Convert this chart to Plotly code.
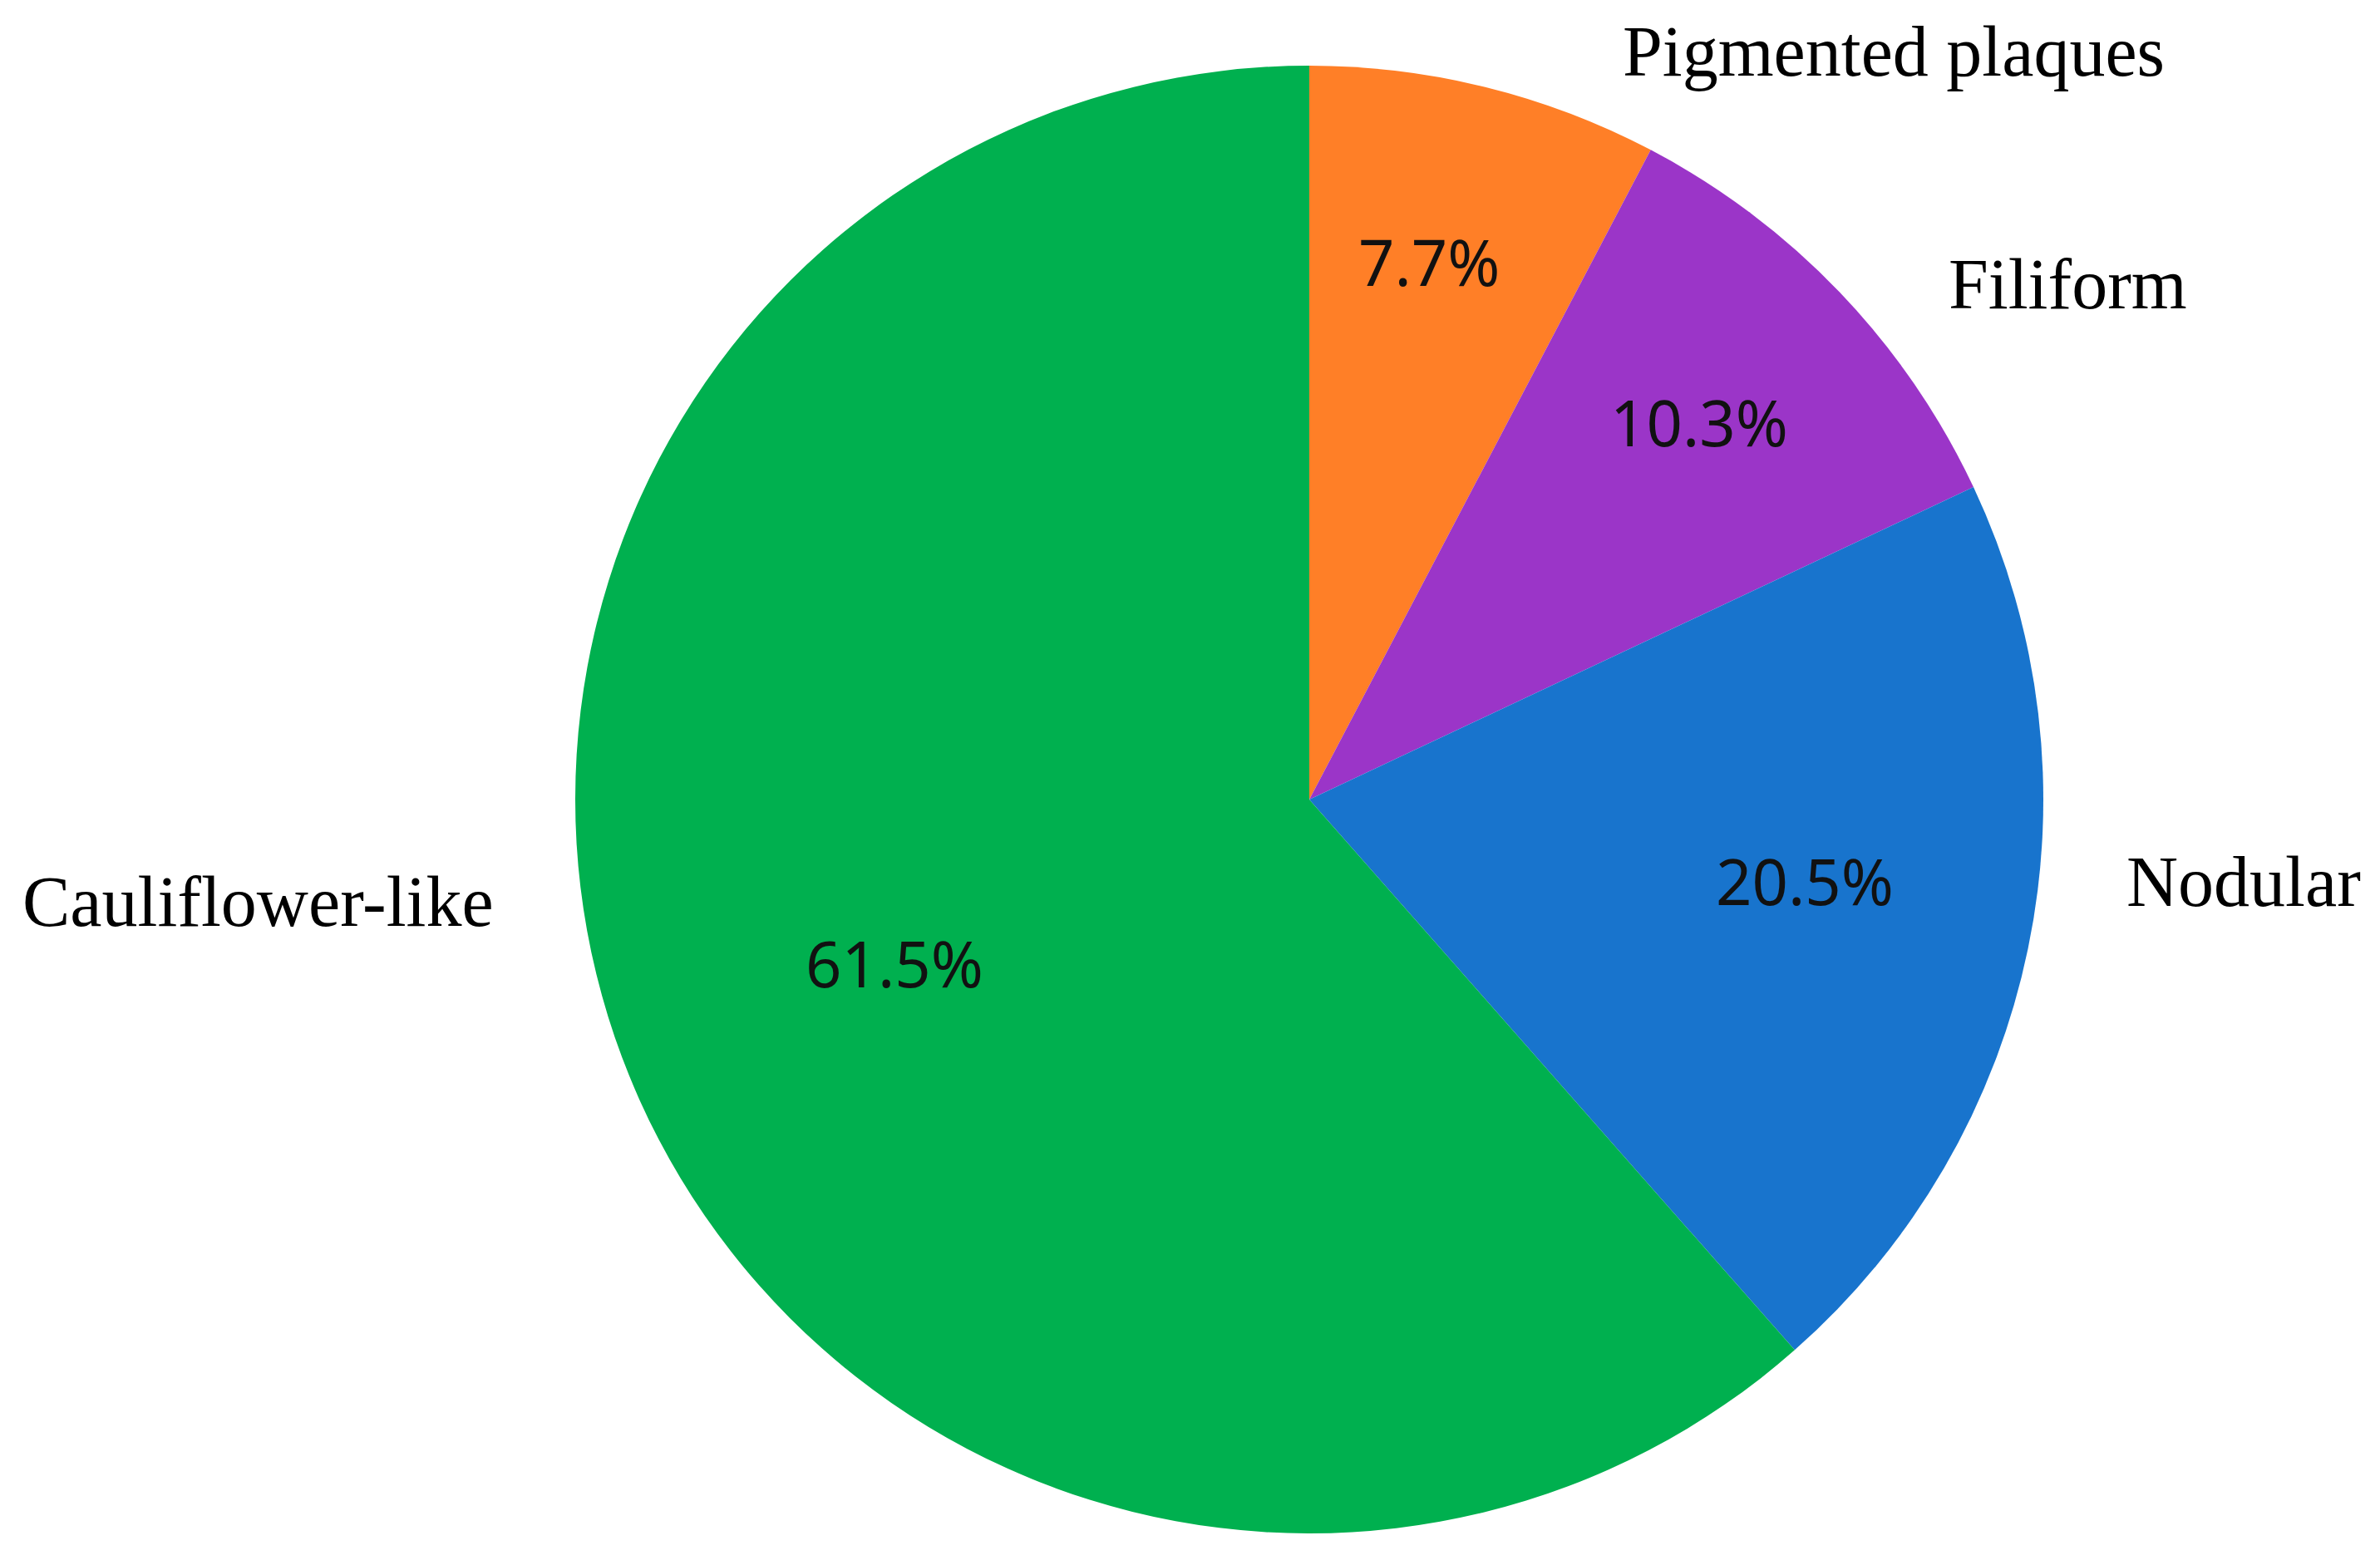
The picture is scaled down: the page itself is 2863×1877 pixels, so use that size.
import math
import plotly.graph_objects as go

categories = ["Pigmented plaques", "Filiform", "Nodular", "Cauliflower-like"]
percentages = [7.7, 10.3, 20.5, 61.5]
colors = ["#FF7F27", "#9B35C8", "#1874CD", "#00B04F"]

# styling / placement (not data)
label_pos = [(0.793, 0.971), (0.866, 0.822), (0.940, 0.439), (0.1055, 0.426)]
pct_radius = [0.745, 0.735, 0.685, 0.61]       # fraction of pie radius
pct_angle_shift = [-1.2, 0.0, -1.8, -1.4]      # degrees
pct_dy_px = -6                                  # vertical nudge of percent text

W, H = 2863, 1877
cx_px, cy_px, R_px = 1567, 954, 883

dom_x = [(cx_px - R_px) / W, (cx_px + R_px) / W]
dom_y = [(H - (cy_px + R_px)) / H, (H - (cy_px - R_px)) / H]

fig = go.Figure(
    go.Pie(
        labels=categories,
        values=percentages,
        sort=False,
        direction="clockwise",
        rotation=0,
        marker=dict(colors=colors, line=dict(width=0)),
        textinfo="none",
        domain=dict(x=dom_x, y=dom_y),
        showlegend=False,
        hoverinfo="label+percent",
    )
)

total = sum(percentages)
cum = 0.0
for v, rf, da in zip(percentages, pct_radius, pct_angle_shift):
    mid = (cum + v / 2) / total * 360 + da
    cum += v
    a = math.radians(mid)
    px = cx_px + rf * R_px * math.sin(a)
    py = cy_px - rf * R_px * math.cos(a) + pct_dy_px
    fig.add_annotation(
        text=f"{v:.1f}%", x=px / W, y=1 - py / H, xref="paper", yref="paper",
        showarrow=False, xanchor="center", yanchor="middle",
        font=dict(family="Noto Sans", size=76, color="#111111"),
    )

for name, (x, y) in zip(categories, label_pos):
    fig.add_annotation(
        text=name, x=x, y=y, xref="paper", yref="paper",
        showarrow=False, xanchor="center", yanchor="middle",
        font=dict(family="Liberation Serif", size=86, color="#000000"),
    )

fig.update_layout(
    width=W, height=H,
    margin=dict(l=0, r=0, t=0, b=0),
    paper_bgcolor="white", plot_bgcolor="white",
)

fig.write_html("out.html")
